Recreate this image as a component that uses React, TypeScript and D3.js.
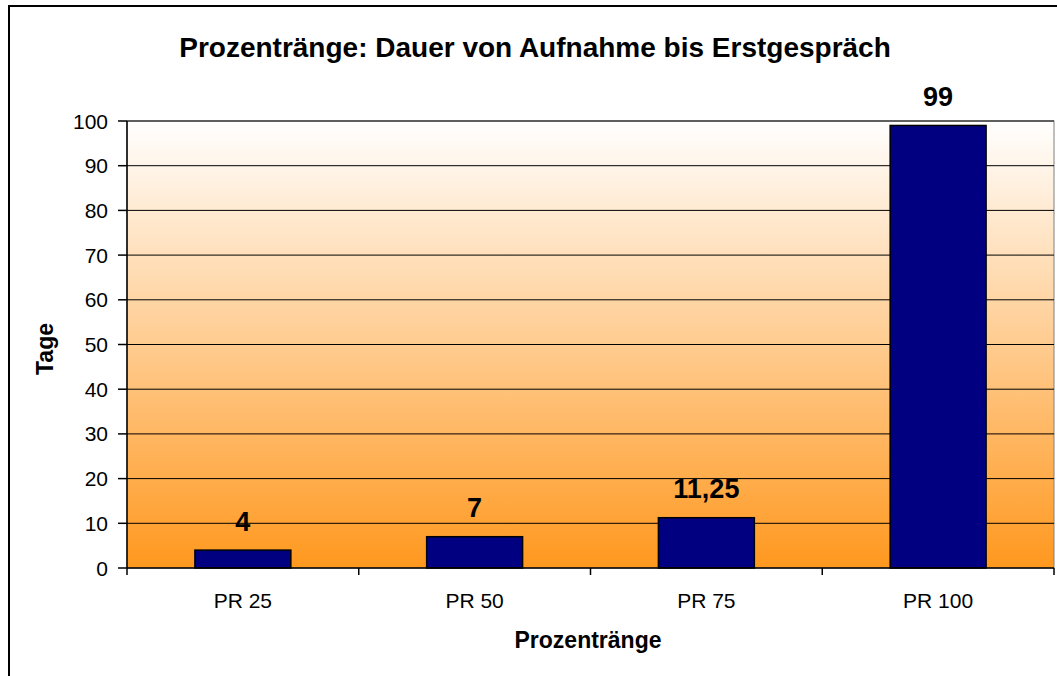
import React from "react";
import * as d3 from "d3";

const categories = ["PR 25", "PR 50", "PR 75", "PR 100"];
const values = [4, 7, 11.25, 99];
const valueLabels = ["4", "7", "11,25", "99"];
const yTicks = [0, 10, 20, 30, 40, 50, 60, 70, 80, 90, 100];

const W = 1057, H = 676;
const plot = { left: 127, right: 1054, top: 121, bottom: 568 };
const FONT = "'Liberation Sans', Arial, sans-serif";

export default function App() {
  const x = d3.scaleBand<string>().domain(categories).range([plot.left, plot.right]).padding(0);
  const y = d3.scaleLinear().domain([0, 100]).range([plot.bottom, plot.top]);
  const bw = x.bandwidth() * 0.414;
  const boundaries = d3.range(categories.length + 1).map((i) => plot.left + i * x.step());

  return (
    <svg width={W} height={H} style={{ position: "absolute", left: 0, top: 0, background: "#fff" }} fontFamily={FONT}>
      <defs>
        <linearGradient id="bg" x1="0" y1="0" x2="0" y2="1">
          <stop offset="0" stopColor="#ffffff" />
          <stop offset="1" stopColor="#ff981f" />
        </linearGradient>
      </defs>
      <rect x={9} y={6} width={1100} height={700} fill="#fff" stroke="#000" strokeWidth={2} />
      <rect x={plot.left} y={plot.top} width={plot.right - plot.left} height={plot.bottom - plot.top} fill="url(#bg)" stroke="#808080" strokeWidth={1} />
      {yTicks.filter((t) => t > 0).map((t) => (
        <line key={"g" + t} x1={plot.left} x2={plot.right} y1={y(t)} y2={y(t)} stroke="#000" strokeWidth={1} />
      ))}
      {categories.map((c, i) => (
        <g key={c}>
          <rect x={x(c)! + (x.bandwidth() - bw) / 2} y={y(values[i])} width={bw} height={y(0) - y(values[i])} fill="#000080" stroke="#000" strokeWidth={1.5} />
          <text x={x(c)! + x.bandwidth() / 2} y={y(values[i]) - 19.5} textAnchor="middle" fontSize={27} fontWeight="bold" fill="#000">{valueLabels[i]}</text>
          <text x={x(c)! + x.bandwidth() / 2} y={608} textAnchor="middle" fontSize={21} fill="#000">{c}</text>
        </g>
      ))}
      <line x1={plot.left} x2={plot.left} y1={plot.top} y2={plot.bottom} stroke="#000" strokeWidth={1.5} />
      <line x1={plot.left} x2={plot.right} y1={plot.bottom} y2={plot.bottom} stroke="#000" strokeWidth={1.5} />
      {yTicks.map((t) => (
        <g key={"t" + t}>
          <line x1={plot.left - 9} x2={plot.left} y1={y(t)} y2={y(t)} stroke="#000" strokeWidth={1.5} />
          <text x={108} y={y(t) + 7.5} textAnchor="end" fontSize={21} fill="#000">{t}</text>
        </g>
      ))}
      {boundaries.map((bx, i) => (
        <line key={"b" + i} x1={bx} x2={bx} y1={plot.bottom} y2={plot.bottom + 7} stroke="#000" strokeWidth={1.5} />
      ))}
      <text x={535} y={57} textAnchor="middle" fontSize={28} fontWeight="bold" fill="#000">Prozentränge: Dauer von Aufnahme bis Erstgespräch</text>
      <text x={588} y={648} textAnchor="middle" fontSize={23} fontWeight="bold" fill="#000">Prozentränge</text>
      <text transform={`translate(53,349) rotate(-90)`} textAnchor="middle" fontSize={23} fontWeight="bold" fill="#000">Tage</text>
    </svg>
  );
}
